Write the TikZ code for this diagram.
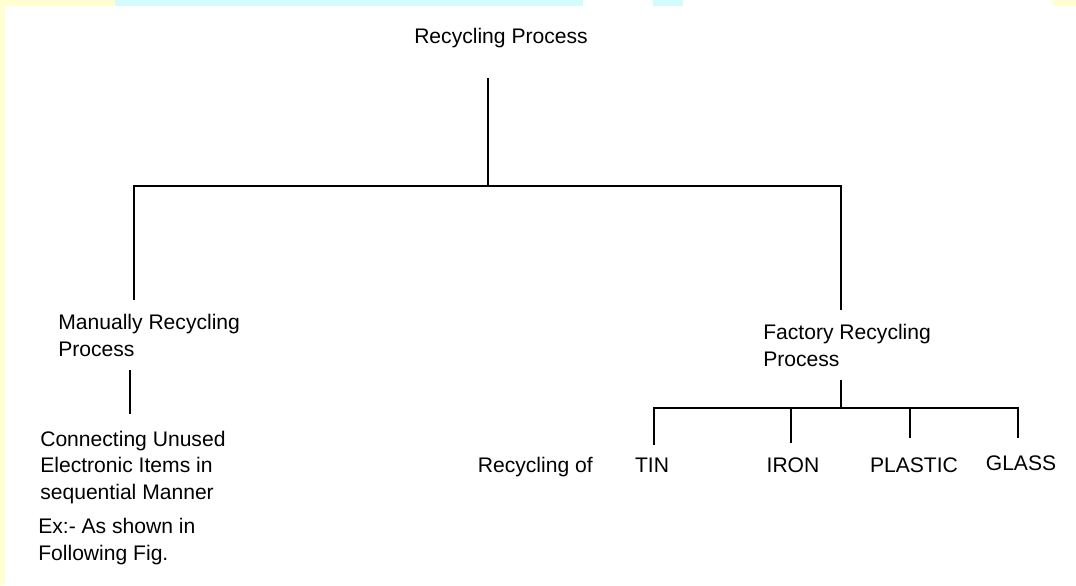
\documentclass[tikz,border=0pt]{standalone}
\usepackage{fontspec}
\setmainfont{Liberation Sans}
\usetikzlibrary{positioning}
\definecolor{paleyel}{HTML}{FFFFD2}
\definecolor{palecyan}{HTML}{D4FCFF}
\tikzset{t/.style={inner sep=0pt, font=\fontsize{15}{18.6}\selectfont},
            tl/.style={t, align=left, anchor=base west}, ln/.style={line width=0.75pt}}

\begin{document}
\begin{tikzpicture}[x=0.025cm,y=-0.025cm]
\useasboundingbox (0,0) rectangle (1076,585);
\fill[paleyel] (0,0) rectangle (5,585);
\fill[paleyel] (0,0) rectangle (115,6);
\fill[palecyan] (115,0) rectangle (583,6);
\fill[palecyan] (653,0) rectangle (683,6);
\fill[paleyel] (1053,0) rectangle (1076,6);
% texts (multi-line nodes sit on their last baseline)
\node[t, anchor=base] at (501,43)(0){Recycling Process};
\node[tl] at (58,356)(1){Manually Recycling\\Process};
\node[tl] at (40,499)(2){Connecting Unused\\Electronic Items in\\sequential Manner};
\node[tl] at (38,560)(3){Ex:- As shown in\\Following Fig.};
\node[tl] at (763,366)(4){Factory Recycling\\Process};
\node[t, anchor=base east] at (593,472)(5){Recycling of};
\node[t, anchor=base] at (652,472)(6){TIN};
\node[t, anchor=base] at (793,472)(7){IRON};
\node[t, anchor=base] at (914,472)(8){PLASTIC};
\node[t, anchor=base] at (1021,470)(9){GLASS};
% tree
\coordinate (r0) at (488,78);
\coordinate (r1) at (488,186);
\coordinate (l0) at (134,186);
\coordinate (l1) at (134,300);
\coordinate (l2) at (130,370);
\coordinate (l3) at (130,414);
\coordinate (f0) at (841,186);
\coordinate (f1) at (841,310);
\coordinate (f2) at (841,380);
\coordinate (f3) at (841,408);
\coordinate (a) at (654,445);
\coordinate (b) at (791,443);
\coordinate (c) at (910,438);
\coordinate (d) at (1018,438);
\draw[ln] (r0) -- (r1);
\draw[ln] (l1) -- (l0) -- (f0) -- (f1);
\draw[ln] (l2) -- (l3);
\draw[ln] (f2) -- (f3);
\draw[ln] (a) |- (f3) -| (d);
\draw[ln] (b) -- (b |- f3);
\draw[ln] (c) -- (c |- f3);
\end{tikzpicture}
\end{document}
